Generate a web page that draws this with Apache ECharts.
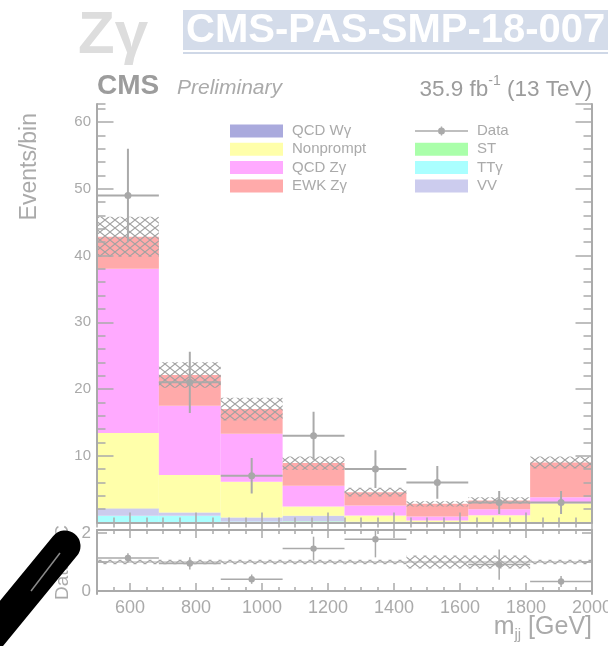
<!DOCTYPE html>
<html>
<head>
<meta charset="utf-8">
<script src="https://cdn.jsdelivr.net/npm/echarts@6/dist/echarts.min.js"></script>
<style>
html, body { margin: 0; padding: 0; background: #fff; }
#chart { width: 608px; height: 646px; }
</style>
</head>
<body>
<div id="chart"></div>
<script>
// m_jj bin edges in GeV
const binEdges = [500, 687.5, 875, 1062.5, 1250, 1437.5, 1625, 1812.5, 2000];

// Expected yields per bin, listed bottom to top of the stack
const stYield        = [0, 0, 0.05, 0.15, 0.05, 0, 0, 0.05];
const ttGammaYield   = [1.0, 1.0, 0.1, 0.05, 0, 0, 0, 0];
const vvYield        = [1.0, 0.45, 0.55, 0.75, 0.05, 0, 0, 0];
const qcdWgammaYield = [0.1, 0.05, 0.05, 0.05, 0, 0, 0, 0];
const nonpromptYield = [11.3, 5.6, 5.35, 1.4, 0.95, 0.3, 1.1, 2.85];
const qcdZgammaYield = [24.6, 10.4, 7.2, 3.1, 1.5, 0.6, 0.9, 0.9];
const ewkZgammaYield = [4.8, 4.6, 3.7, 3.4, 2.0, 1.9, 1.3, 5.2];

// Total MC uncertainty (absolute, per bin)
const mcUnc = [3.0, 1.9, 1.7, 1.0, 0.65, 0.4, 0.5, 0.9];

// Observed events and their errors
const dataCounts = [49, 21, 7, 13, 8, 6, 3, 3];
const dataErr    = [7.0, 4.58, 2.65, 3.61, 2.83, 2.45, 1.73, 1.73];

// Data / MC ratio panel
const ratioVal = [1.14, 0.95, 0.41, 1.46, 1.78, 2.14, 0.91, 0.33];
const ratioErr = [0.16, 0.21, 0.16, 0.41, 0.62, 0.87, 0.52, 0.19];
const ratioUnc = [0.08, 0.08, 0.08, 0.08, 0.08, 0.22, 0.22, 0.08];

// Tick labels
const xTickLabels = [600, 800, 1000, 1200, 1400, 1600, 1800, 2000];
const ratioTickLabels = [0, 2];
const ratioTicks = [0, 1, 2];

const Y_MAX = 62.7;
const R_MIN = -0.1, R_MAX = 2.1;
const GREY = '#aaaaaa';
const FONT = '"Liberation Sans", Arial, sans-serif';

const chart = echarts.init(document.getElementById('chart'), null, { renderer: 'canvas' });

// Cross-hatch fill used for the uncertainty bands
function crossHatch() {
  const c = document.createElement('canvas');
  c.width = 10; c.height = 8;
  const g = c.getContext('2d');
  g.strokeStyle = '#a2a2a2';
  g.lineWidth = 1.1;
  g.beginPath();
  g.moveTo(0, 0); g.lineTo(10, 8);
  g.moveTo(10, 0); g.lineTo(0, 8);
  g.stroke();
  return c;
}
const hatch = { image: crossHatch(), repeat: 'repeat' };

function rectItem(params, api) {
  const p0 = api.coord([api.value(0), api.value(3)]);
  const p1 = api.coord([api.value(1), api.value(2)]);
  return {
    type: 'rect',
    shape: { x: p0[0], y: p0[1], width: p1[0] - p0[0], height: p1[1] - p0[1] },
    style: { fill: api.visual('color') }
  };
}

function hatchItem(params, api) {
  const p0 = api.coord([api.value(0), api.value(3)]);
  const p1 = api.coord([api.value(1), api.value(2)]);
  return {
    type: 'rect',
    shape: { x: p0[0], y: p0[1], width: p1[0] - p0[0], height: p1[1] - p0[1] },
    style: { fill: hatch }
  };
}

function pointItemFactory(lw, r, ymax) {
  return function (params, api) {
    const lo = api.value(0), hi = api.value(1), y = api.value(2), e = api.value(3);
    if (y > ymax) return null;
    const xc = (lo + hi) / 2;
    const a = api.coord([lo, y]), b = api.coord([hi, y]);
    const t = api.coord([xc, y + e]), d = api.coord([xc, y - e]);
    const c = api.coord([xc, y]);
    return {
      type: 'group',
      children: [
        { type: 'line', shape: { x1: a[0], y1: a[1], x2: b[0], y2: b[1] }, style: { stroke: GREY, lineWidth: lw } },
        { type: 'line', shape: { x1: t[0], y1: t[1], x2: d[0], y2: d[1] }, style: { stroke: GREY, lineWidth: lw } },
        { type: 'circle', shape: { cx: c[0], cy: c[1], r: r }, style: { fill: '#a8a8a8' } }
      ]
    };
  };
}

const components = [
  { name: 'ST',        vals: stYield,        color: '#aaffaa' },
  { name: 'TTγ',       vals: ttGammaYield,   color: '#aaffff' },
  { name: 'VV',        vals: vvYield,        color: '#ccccee' },
  { name: 'QCD Wγ',    vals: qcdWgammaYield, color: '#aaaadd' },
  { name: 'Nonprompt', vals: nonpromptYield, color: '#ffffaa' },
  { name: 'QCD Zγ',    vals: qcdZgammaYield, color: '#ffaaff' },
  { name: 'EWK Zγ',    vals: ewkZgammaYield, color: '#ffaaaa' }
];

const cum = dataCounts.map(() => 0);
const stackSeries = components.map(c => {
  const data = c.vals.map((v, i) => {
    const lo = cum[i];
    cum[i] += v;
    return [binEdges[i], binEdges[i + 1], lo, cum[i]];
  });
  return {
    type: 'custom', name: c.name, xAxisIndex: 0, yAxisIndex: 0,
    renderItem: rectItem, itemStyle: { color: c.color }, data: data, z: 2, clip: true
  };
});
const mcTotal = cum.slice();

const mainHatch = {
  type: 'custom', name: 'MC unc', xAxisIndex: 0, yAxisIndex: 0, renderItem: hatchItem, z: 3, clip: true,
  data: mcTotal.map((t, i) => [binEdges[i], binEdges[i + 1], t - mcUnc[i], t + mcUnc[i]])
};

const dataSeries = {
  type: 'custom', name: 'Data', xAxisIndex: 0, yAxisIndex: 0, z: 4, clip: true,
  renderItem: pointItemFactory(2, 3.5, Y_MAX), itemStyle: { color: GREY },
  data: dataCounts.map((n, i) => [binEdges[i], binEdges[i + 1], n, dataErr[i]])
};

const ratioHatch = {
  type: 'custom', name: 'ratio unc', xAxisIndex: 4, yAxisIndex: 4, renderItem: hatchItem, z: 3, clip: true,
  data: ratioUnc.map((u, i) => [binEdges[i], binEdges[i + 1], 1 - u, 1 + u])
};

const unityLine = {
  type: 'custom', name: 'unity', xAxisIndex: 4, yAxisIndex: 4, z: 3, clip: true,
  renderItem: function (params, api) {
    const a = api.coord([api.value(0), api.value(2)]);
    const b = api.coord([api.value(1), api.value(2)]);
    return { type: 'line', shape: { x1: a[0], y1: a[1], x2: b[0], y2: b[1] }, style: { stroke: GREY, lineWidth: 1 } };
  },
  data: [[binEdges[0], binEdges[binEdges.length - 1], 1]]
};

const ratioSeries = {
  type: 'custom', name: 'ratio', xAxisIndex: 4, yAxisIndex: 4, z: 4, clip: true,
  renderItem: pointItemFactory(1.5, 3.2, R_MAX), itemStyle: { color: GREY },
  data: ratioVal.map((r, i) => [binEdges[i], binEdges[i + 1], r, ratioErr[i]])
};

function xAxis(grid, pos, opt) {
  return Object.assign({
    type: 'value', gridIndex: grid, position: pos, min: 500, max: 2000,
    axisLine: { show: false }, splitLine: { show: false },
    axisLabel: { show: false }, axisTick: { show: false }, z: 10
  }, opt);
}
function yAxis(grid, pos, min, max, opt) {
  return Object.assign({
    type: 'value', gridIndex: grid, position: pos, min: min, max: max,
    axisLine: { show: false }, splitLine: { show: false },
    axisLabel: { show: false }, axisTick: { show: false }, z: 10
  }, opt);
}
const frameLine = { show: true, lineStyle: { color: GREY, width: 2 } };
const majorX = (len) => ({ show: true, inside: true, length: len, customValues: xTickLabels, lineStyle: { color: GREY, width: 1.5 } });
const minorX = (len) => ({ show: true, inside: true, length: len, lineStyle: { color: GREY, width: 1.5 } });
const plain = (v) => String(v);

const option = {
  animation: false,
  backgroundColor: '#ffffff',
  grid: [
    { left: 97, right: 16, top: 104, height: 418.5, containLabel: false, outerBoundsMode: 'none' },
    { left: 97, right: 16, top: 530, height: 64, containLabel: false, outerBoundsMode: 'none' }
  ],
  xAxis: [
    xAxis(0, 'bottom', { axisTick: majorX(10) }),
    xAxis(0, 'bottom', { interval: 50, axisTick: minorX(5) }),
    xAxis(0, 'top', { axisLine: frameLine, axisTick: majorX(10) }),
    xAxis(0, 'top', { interval: 50, axisTick: minorX(5) }),
    xAxis(1, 'bottom', {
      axisLine: frameLine, axisTick: majorX(8),
      axisLabel: { show: true, customValues: xTickLabels, formatter: plain, color: GREY, fontSize: 18, fontFamily: FONT, margin: 5 }
    }),
    xAxis(1, 'bottom', { interval: 50, axisTick: minorX(4) }),
    xAxis(1, 'top', { axisLine: frameLine, axisTick: majorX(8) }),
    xAxis(1, 'top', { interval: 50, axisTick: minorX(4) })
  ],
  yAxis: [
    yAxis(0, 'left', 0, Y_MAX, {
      interval: 10, axisLine: frameLine,
      axisTick: { show: true, inside: true, length: 16.5, lineStyle: { color: GREY, width: 1.5 } },
      axisLabel: { show: true, formatter: plain, color: GREY, fontSize: 15, fontFamily: FONT, margin: 6, showMinLabel: false, showMaxLabel: false }
    }),
    yAxis(0, 'left', 0, Y_MAX, { interval: 2, axisTick: { show: true, inside: true, length: 8.5, lineStyle: { color: GREY, width: 1.5 } } }),
    yAxis(0, 'right', 0, Y_MAX, {
      interval: 10, axisLine: frameLine,
      axisTick: { show: true, inside: true, length: 16.5, lineStyle: { color: GREY, width: 1.5 } }
    }),
    yAxis(0, 'right', 0, Y_MAX, { interval: 2, axisTick: { show: true, inside: true, length: 8.5, lineStyle: { color: GREY, width: 1.5 } } }),
    yAxis(1, 'left', R_MIN, R_MAX, {
      axisLine: frameLine,
      axisTick: { show: true, inside: true, length: 10, customValues: ratioTicks, lineStyle: { color: GREY, width: 1.5 } },
      axisLabel: { show: true, customValues: ratioTickLabels, formatter: plain, color: GREY, fontSize: 17, fontFamily: FONT, margin: 6 }
    }),
    yAxis(1, 'right', R_MIN, R_MAX, {
      axisLine: frameLine,
      axisTick: { show: true, inside: true, length: 10, customValues: ratioTicks, lineStyle: { color: GREY, width: 1.5 } }
    })
  ],
  legend: [
    {
      left: 225, top: 118.5, orient: 'vertical', itemWidth: 53, itemHeight: 13, itemGap: 3.3,
      icon: 'rect', selectedMode: false,
      textStyle: { color: GREY, fontSize: 15, lineHeight: 15, fontFamily: FONT, padding: [0, 0, 0, 4] },
      data: ['QCD Wγ', 'Nonprompt', 'QCD Zγ', 'EWK Zγ']
    },
    {
      left: 410, top: 118.5, orient: 'vertical', itemWidth: 53, itemHeight: 13, itemGap: 3.3,
      icon: 'rect', selectedMode: false,
      textStyle: { color: GREY, fontSize: 15, lineHeight: 15, fontFamily: FONT, padding: [0, 0, 0, 4] },
      data: [
        { name: 'Data', icon: 'path://M0,5.8H23V7.2H0Z M30,5.8H53V7.2H30Z M25.8,2H27.2V3H25.8Z M25.8,10H27.2V11H25.8Z M23,6.5A3.5,3.5,0,1,1,30,6.5A3.5,3.5,0,1,1,23,6.5Z' },
        'ST', 'TTγ', 'VV'
      ]
    }
  ],
  graphic: [
    { type: 'text', z: 20, style: { text: 'Zγ', x: 78, y: 36, font: 'bold 60px ' + FONT, fill: '#dddddd', align: 'left', verticalAlign: 'middle' } },
    { type: 'rect', z: 20, shape: { x: 183, y: 10, width: 425, height: 40 }, style: { fill: '#d4dcea' } },
    { type: 'rect', z: 20, shape: { x: 183, y: 52, width: 425, height: 2 }, style: { fill: '#cfd8e7' } },
    { type: 'text', z: 21, style: { text: 'CMS-PAS-SMP-18-007', x: 186, y: 31, font: 'bold 40px ' + FONT, fill: '#ffffff', align: 'left', verticalAlign: 'middle' } },
    { type: 'text', z: 20, style: { text: 'CMS', x: 97, y: 86, font: 'bold 28px ' + FONT, fill: '#9c9c9c', align: 'left', verticalAlign: 'middle' } },
    { type: 'text', z: 20, style: { text: 'Preliminary', x: 177, y: 88.5, font: 'italic 21px ' + FONT, fill: '#aaaaaa', align: 'left', verticalAlign: 'middle' } },
    {
      type: 'text', z: 20,
      style: {
        text: '{a|35.9 fb}{s|-1}{a| (13 TeV)}', x: 592, y: 88, align: 'right', verticalAlign: 'middle',
        rich: {
          a: { fontSize: 22.5, fontFamily: FONT, fill: '#9c9c9c', lineHeight: 27, verticalAlign: 'bottom' },
          s: { fontSize: 14, fontFamily: FONT, fill: '#9c9c9c', lineHeight: 14, verticalAlign: 'top' }
        }
      }
    },
    { type: 'text', z: 20, rotation: Math.PI / 2, x: 30, y: 113, style: { text: 'Events/bin', x: 0, y: 0, font: '23px ' + FONT, fill: GREY, align: 'right', verticalAlign: 'middle' } },
    { type: 'text', z: 20, rotation: Math.PI / 2, x: 63, y: 600, style: { text: 'Data/MC', x: 0, y: 0, font: '19px ' + FONT, fill: GREY, align: 'left', verticalAlign: 'middle' } },
    {
      type: 'text', z: 20,
      style: {
        text: '{m|m}{j|jj}{m| [GeV]}', x: 592, y: 627, align: 'right', verticalAlign: 'middle',
        rich: {
          m: { fontSize: 25, fontFamily: FONT, fill: GREY, lineHeight: 30, verticalAlign: 'middle' },
          j: { fontSize: 15, fontFamily: FONT, fill: GREY, lineHeight: 8, verticalAlign: 'bottom' }
        }
      }
    },
    // stylus resting over the lower-left corner
    { type: 'line', z: 50, shape: { x1: 65, y1: 546, x2: -40, y2: 674 }, style: { stroke: '#000000', lineWidth: 31, lineCap: 'round' } },
    { type: 'line', z: 51, shape: { x1: 60, y1: 553, x2: 31, y2: 591 }, style: { stroke: '#8a8a8a', lineWidth: 1.5 } }
  ],
  series: stackSeries.concat([mainHatch, dataSeries, ratioHatch, unityLine, ratioSeries])
};

chart.setOption(option);
</script>
</body>
</html>
